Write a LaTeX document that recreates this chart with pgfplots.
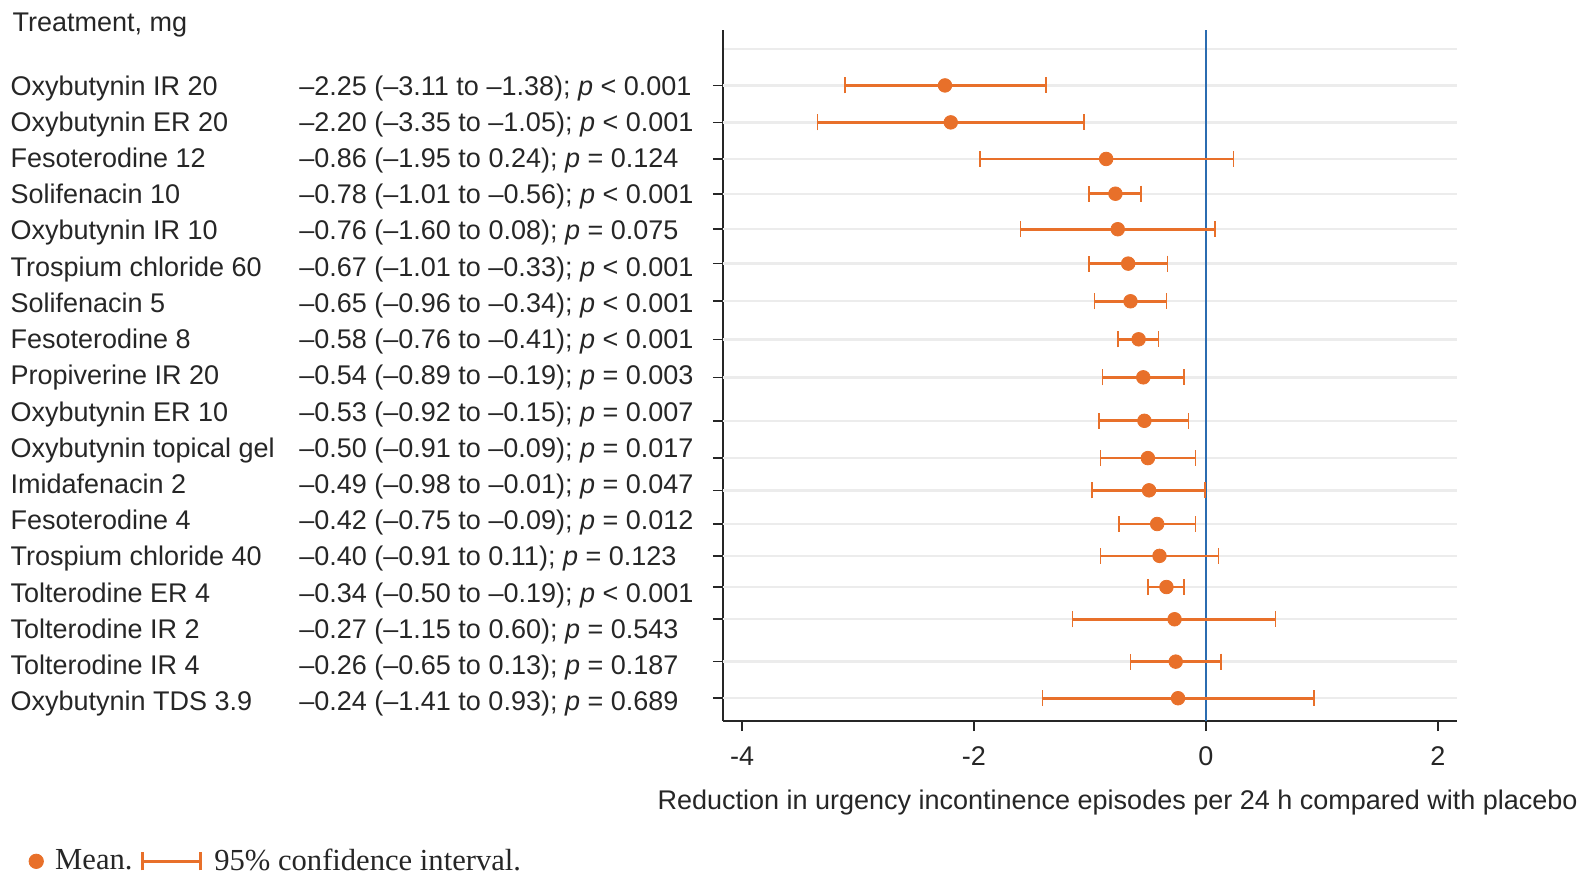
\documentclass[border=0pt]{standalone}
\usepackage{fontspec}
\setmainfont{Liberation Sans}
\newfontfamily\timesfont{Liberation Serif}
\usepackage{pgfplots}
\pgfplotsset{compat=1.18}
\definecolor{ciorange}{HTML}{E8702A}
\definecolor{refblue}{HTML}{2B6CB0}
\definecolor{gridgray}{HTML}{ECECEC}
\definecolor{textgray}{HTML}{262626}

\newcommand{\lab}[2]{\makebox[144.4pt][l]{#1}#2}

\begin{document}
\begin{tikzpicture}
\useasboundingbox (0,0) rectangle (791.5pt,-437.5pt);
\node[anchor=west, inner sep=0pt, text=textgray, font=\fontsize{13.5}{15}\selectfont] at (6.06pt,-12.4pt) {Treatment, mg};
\begin{axis}[
  at={(361.4pt,-360.5pt)}, anchor=south west,
  scale only axis, width=367.1pt, height=345.5pt,
  xmin=-4.166, xmax=2.166,
  ymin=-0.52, ymax=18.56, y dir=reverse,
  axis x line*=bottom, axis y line*=left,
  axis line style={line width=0.8pt, black!85},
  tick align=outside, major tick length=5pt,
  tick style={line width=0.8pt, black!85},
  xtick={-4,-2,0,2},
  xticklabel style={yshift=-4.5pt},
  % labels sit on an even row spacing, the plotted rows are slightly uneven
  ytick={1,...,18},
  ytick style={draw=none},
  extra y ticks={1.01,2.03,3.04,4.00,4.98,5.93,6.97,8.02,9.07,10.27,11.30,12.19,13.12,14.00,14.86,15.75,16.92,17.93},
  extra y tick labels={,,,,,,,,,,,,,,,,,},
  extra y tick style={grid=major, ytick style={draw=black!85}},
  minor ytick={0.01}, yminorgrids=true, minor tick length=0pt,
  major grid style={gridgray, line width=1.2pt},
  minor grid style={gridgray, line width=1.2pt},
  /pgf/number format/assume math mode=true,
  tick label style={font=\fontsize{13.5}{15}\selectfont, text=textgray},
  yticklabel style={anchor=west, inner sep=0pt, xshift=-351.3pt, yshift=-1.5pt},
  yticklabels={
    {\lab{Oxybutynin IR 20}{–2.25 (–3.11 to –1.38); \textit{p} < 0.001}},
    {\lab{Oxybutynin ER 20}{–2.20 (–3.35 to –1.05); \textit{p} < 0.001}},
    {\lab{Fesoterodine 12}{–0.86 (–1.95 to 0.24); \textit{p} = 0.124}},
    {\lab{Solifenacin 10}{–0.78 (–1.01 to –0.56); \textit{p} < 0.001}},
    {\lab{Oxybutynin IR 10}{–0.76 (–1.60 to 0.08); \textit{p} = 0.075}},
    {\lab{Trospium chloride 60}{–0.67 (–1.01 to –0.33); \textit{p} < 0.001}},
    {\lab{Solifenacin 5}{–0.65 (–0.96 to –0.34); \textit{p} < 0.001}},
    {\lab{Fesoterodine 8}{–0.58 (–0.76 to –0.41); \textit{p} < 0.001}},
    {\lab{Propiverine IR 20}{–0.54 (–0.89 to –0.19); \textit{p} = 0.003}},
    {\lab{Oxybutynin ER 10}{–0.53 (–0.92 to –0.15); \textit{p} = 0.007}},
    {\lab{Oxybutynin topical gel}{–0.50 (–0.91 to –0.09); \textit{p} = 0.017}},
    {\lab{Imidafenacin 2}{–0.49 (–0.98 to –0.01); \textit{p} = 0.047}},
    {\lab{Fesoterodine 4}{–0.42 (–0.75 to –0.09); \textit{p} = 0.012}},
    {\lab{Trospium chloride 40}{–0.40 (–0.91 to 0.11); \textit{p} = 0.123}},
    {\lab{Tolterodine ER 4}{–0.34 (–0.50 to –0.19); \textit{p} < 0.001}},
    {\lab{Tolterodine IR 2}{–0.27 (–1.15 to 0.60); \textit{p} = 0.543}},
    {\lab{Tolterodine IR 4}{–0.26 (–0.65 to 0.13); \textit{p} = 0.187}},
    {\lab{Oxybutynin TDS 3.9}{–0.24 (–1.41 to 0.93); \textit{p} = 0.689}}},
  xlabel={Reduction in urgency incontinence episodes per 24 h compared with placebo},
  xlabel style={at={(axis description cs:0.5377,-0.118)}, anchor=center,
                font=\fontsize{13.5}{15}\selectfont, text=textgray},
  legend columns=2,
  legend style={at={(axis description cs:-0.946,-0.203)}, anchor=west,
                draw=none, fill=none, inner sep=0pt, text=textgray,
                font=\timesfont\fontsize{15.3}{17}\selectfont,
                /tikz/every even column/.append style={column sep=2pt}},
]
\draw[refblue, line width=1pt] (axis cs:0,-0.52) -- (axis cs:0,18.56);

\addlegendimage{legend image code/.code={
  \path[draw=none] (0pt,0pt) -- (7.5pt,0pt);
  \fill[ciorange] (0pt,0pt) circle (3.6pt);}}
\addlegendentry{Mean.}
\addlegendimage{legend image code/.code={
  \path[draw=none] (0pt,0pt) -- (34pt,0pt);
  \draw[ciorange, line width=1.8pt] (0pt,0pt) -- (29pt,0pt);
  \draw[ciorange, line width=1.3pt] (0pt,-4.5pt) -- (0pt,4.5pt);
  \draw[ciorange, line width=1.3pt] (29pt,-4.5pt) -- (29pt,4.5pt);}}
\addlegendentry{95\% confidence interval.}

% mean with asymmetric 95% CI: (mean,row) += (upper-mean) -= (mean-lower)
\addplot[ciorange, only marks, mark=*, mark size=3.4pt, forget plot,
  error bars/.cd, x dir=both, x explicit,
  error bar style={line width=1.3pt, ciorange},
  error mark options={rotate=90, mark size=4pt, line width=0.8pt, ciorange}]
  coordinates {
  (-2.25,1.01)  += (0.87,0) -= (0.86,0)
  (-2.20,2.03)  += (1.15,0) -= (1.15,0)
  (-0.86,3.04)  += (1.10,0) -= (1.09,0)
  (-0.78,4.00)  += (0.22,0) -= (0.23,0)
  (-0.76,4.98)  += (0.84,0) -= (0.84,0)
  (-0.67,5.93)  += (0.34,0) -= (0.34,0)
  (-0.65,6.97)  += (0.31,0) -= (0.31,0)
  (-0.58,8.02)  += (0.17,0) -= (0.18,0)
  (-0.54,9.07)  += (0.35,0) -= (0.35,0)
  (-0.53,10.27) += (0.38,0) -= (0.39,0)
  (-0.50,11.30) += (0.41,0) -= (0.41,0)
  (-0.49,12.19) += (0.48,0) -= (0.49,0)
  (-0.42,13.12) += (0.33,0) -= (0.33,0)
  (-0.40,14.00) += (0.51,0) -= (0.51,0)
  (-0.34,14.86) += (0.15,0) -= (0.16,0)
  (-0.27,15.75) += (0.87,0) -= (0.88,0)
  (-0.26,16.92) += (0.39,0) -= (0.39,0)
  (-0.24,17.93) += (1.17,0) -= (1.17,0)
  };
\end{axis}
\end{tikzpicture}
\end{document}
